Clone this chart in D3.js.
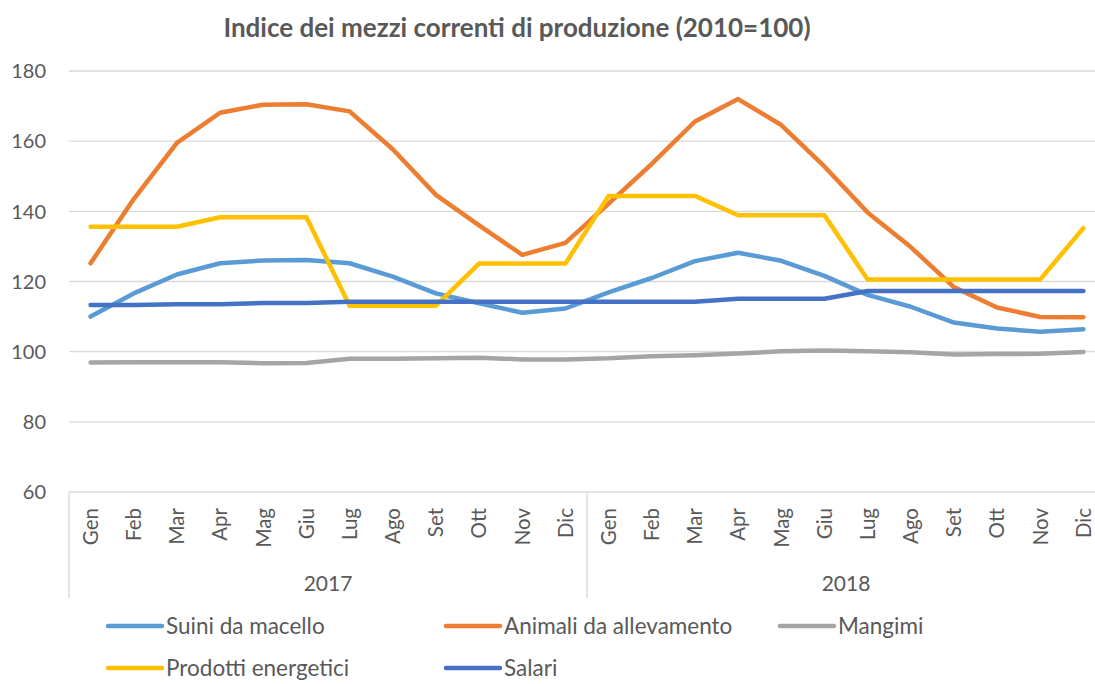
<!DOCTYPE html>
<html>
<head>
<meta charset="utf-8">
<script src="https://cdn.jsdelivr.net/npm/d3@7"></script>
<style>
  body { margin: 0; background: #fff; }
  svg text { font-family: Lato, "Open Sans", sans-serif; fill: #595959; }
</style>
</head>
<body>
<svg id="chart" width="1095" height="684"></svg>
<script>
// Data
const years = ["2017", "2018"];
const months = ["Gen", "Feb", "Mar", "Apr", "Mag", "Giu", "Lug", "Ago", "Set", "Ott", "Nov", "Dic"];
const yTicks = [60, 80, 100, 120, 140, 160, 180];

const suini = [110, 116.6, 122, 125.2, 126, 126.1, 125.2, 121.4, 116.6, 113.8, 111.1, 112.3,
               116.9, 121, 125.8, 128.2, 125.9, 121.6, 116.2, 112.8, 108.3, 106.6, 105.7, 106.4];
const animali = [125.2, 143.5, 159.5, 168.1, 170.4, 170.5, 168.5, 157.7, 144.7, 136, 127.6, 131,
                 142.2, 153.5, 165.6, 172, 164.6, 152.8, 139.7, 129.8, 118.4, 112.6, 109.9, 109.8];
const mangimi = [96.9, 97, 97, 97, 96.7, 96.8, 98, 98, 98.1, 98.3, 97.8, 97.8,
                 98.1, 98.7, 99, 99.5, 100.1, 100.3, 100.1, 99.8, 99.2, 99.3, 99.4, 99.9];
const prodotti = [135.6, 135.6, 135.6, 138.3, 138.3, 138.3, 113.1, 113.1, 113.1, 125.1, 125.1, 125.1,
                  144.4, 144.4, 144.4, 138.9, 138.9, 138.9, 120.6, 120.6, 120.6, 120.6, 120.6, 135.2];
const salari = [113.3, 113.3, 113.5, 113.5, 113.9, 113.9, 114.2, 114.2, 114.2, 114.2, 114.2, 114.2,
                114.2, 114.2, 114.2, 115.1, 115.1, 115.1, 117.3, 117.3, 117.3, 117.3, 117.3, 117.3];

const series = [
  { name: "Suini da macello", color: "#5B9BD5", values: suini },
  { name: "Animali da allevamento", color: "#ED7D31", values: animali },
  { name: "Mangimi", color: "#A5A5A5", values: mangimi },
  { name: "Prodotti energetici", color: "#FFC000", values: prodotti },
  { name: "Salari", color: "#4472C4", values: salari },
];

const svg = d3.select("#chart");

// categories = year/month pairs
const cats = [];
years.forEach(y => months.forEach(m => cats.push(y + "-" + m)));

const x = d3.scaleBand().domain(cats).range([69, 1105]);
const y = d3.scaleLinear().domain([60, 180]).range([492, 71]);
const cx = c => x(c) + x.bandwidth() / 2;

// title
svg.append("text")
  .attr("x", 517).attr("y", 37)
  .attr("text-anchor", "middle")
  .style("font-size", "26px").style("font-weight", "bold")
  .text("Indice dei mezzi correnti di produzione (2010=100)");

// gridlines
svg.append("g").selectAll("line")
  .data(yTicks.filter(d => d > 60))
  .join("line")
  .attr("x1", 69).attr("x2", 1105)
  .attr("y1", d => y(d)).attr("y2", d => y(d))
  .attr("stroke", "#D9D9D9").attr("stroke-width", 1.3);

// y axis labels
svg.append("g").selectAll("text")
  .data(yTicks)
  .join("text")
  .attr("x", 46).attr("y", d => y(d))
  .attr("text-anchor", "end").attr("dy", "0.36em")
  .style("font-size", "20px")
  .text(d => d);

// category axis: base line and group separators
svg.append("line")
  .attr("x1", 69).attr("x2", 1105).attr("y1", y(60)).attr("y2", y(60))
  .attr("stroke", "#D9D9D9").attr("stroke-width", 1.3);

svg.append("g").selectAll("line")
  .data([cats[0], cats[12]])
  .join("line")
  .attr("x1", d => x(d)).attr("x2", d => x(d))
  .attr("y1", y(60)).attr("y2", 598)
  .attr("stroke", "#D9D9D9").attr("stroke-width", 1.3);

// month labels (rotated)
svg.append("g").selectAll("text")
  .data(cats)
  .join("text")
  .attr("transform", d => `translate(${cx(d)},508) rotate(-90)`)
  .attr("text-anchor", "end").attr("dy", "0.36em")
  .style("font-size", "20.5px")
  .text(d => d.split("-")[1]);

// year labels
svg.append("g").selectAll("text")
  .data(years)
  .join("text")
  .attr("x", d => (x(d + "-Gen") + x(d + "-Dic") + x.bandwidth()) / 2)
  .attr("y", 591)
  .attr("text-anchor", "middle")
  .style("font-size", "21px")
  .text(d => d);

// lines
const line = d3.line()
  .x((d, i) => cx(cats[i]))
  .y(d => y(d));

svg.append("g").selectAll("path")
  .data(series)
  .join("path")
  .attr("d", d => line(d.values))
  .attr("fill", "none")
  .attr("stroke", d => d.color)
  .attr("stroke-width", 4.5)
  .attr("stroke-linejoin", "round")
  .attr("stroke-linecap", "round");

// legend
const legendPos = [[108, 626], [446, 626], [780, 626], [108, 668], [446, 668]];
const lg = svg.append("g").selectAll("g")
  .data(series)
  .join("g")
  .attr("transform", (d, i) => `translate(${legendPos[i][0]},${legendPos[i][1]})`);

lg.append("line")
  .attr("x1", 0).attr("x2", 54)
  .attr("stroke", d => d.color).attr("stroke-width", 4.5)
  .attr("stroke-linecap", "round");

lg.append("text")
  .attr("x", 58).attr("dy", "0.36em")
  .style("font-size", "22.5px")
  .text(d => d.name);
</script>
</body>
</html>
